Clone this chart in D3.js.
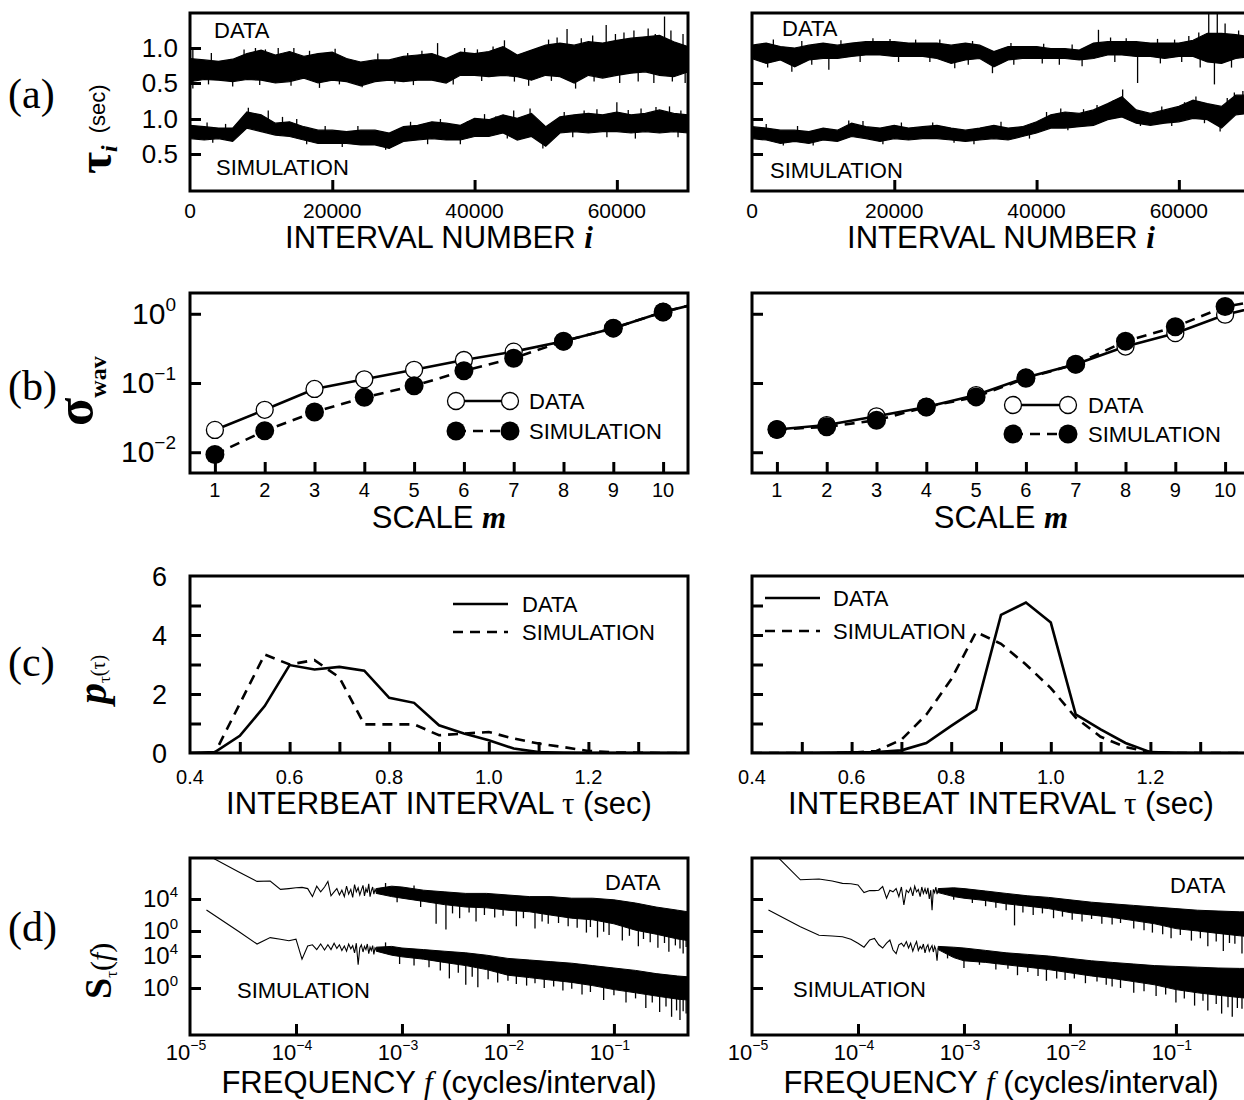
<!DOCTYPE html>
<html>
<head>
<meta charset="utf-8">
<script src="https://cdn.jsdelivr.net/npm/d3@7"></script>
<style>
  body { margin: 0; background: #fff; }
  svg { display: block; }
  text { font-family: "Liberation Sans", Arial, Helvetica, sans-serif; fill: #000; }
  .serif { font-family: "Liberation Serif", "Times New Roman", serif; }
</style>
</head>
<body>
<svg id="fig"></svg>
<script>
// ---------------- values ----------------

// (a) interbeat interval series: band envelope (sec) every 2000 beats
var beatIdx = [0,2000,4000,6000,8000,10000,12000,14000,16000,18000,20000,22000,24000,26000,28000,30000,32000,34000,
  36000,38000,40000,42000,44000,46000,48000,50000,52000,54000,56000,58000,60000,62000,64000,66000,68000,70000];
var dataHiL = [0.85,0.83,0.81,0.84,0.92,0.97,0.90,0.95,0.88,0.92,0.94,0.85,0.80,0.83,0.83,0.88,0.90,0.92,
  0.85,0.94,0.92,0.95,1.02,0.90,0.97,1.04,1.07,1.04,1.09,1.07,1.11,1.14,1.16,1.18,1.09,1.02];
var dataLoL = [0.52,0.55,0.54,0.52,0.55,0.54,0.50,0.52,0.57,0.50,0.54,0.52,0.46,0.52,0.54,0.52,0.54,0.54,
  0.50,0.61,0.61,0.59,0.61,0.59,0.54,0.61,0.59,0.50,0.61,0.57,0.61,0.64,0.66,0.61,0.59,0.66];
var simHiL = [0.91,0.89,0.87,0.87,1.10,1.06,0.94,0.96,0.89,0.84,0.84,0.82,0.84,0.84,0.80,0.89,0.91,0.96,
  0.94,0.91,1.01,0.99,1.06,1.01,1.08,0.89,1.03,1.06,1.08,1.06,1.10,1.06,1.08,1.13,1.08,1.06];
var simLoL = [0.72,0.70,0.72,0.68,0.87,0.82,0.77,0.75,0.70,0.65,0.65,0.65,0.63,0.63,0.58,0.68,0.70,0.72,
  0.70,0.70,0.75,0.75,0.80,0.70,0.75,0.61,0.80,0.82,0.80,0.82,0.82,0.80,0.82,0.80,0.82,0.80];
var dataHiR = [1.04,1.07,1.02,1.00,1.04,1.07,1.04,1.07,1.09,1.09,1.09,1.07,1.07,1.07,1.04,1.07,1.04,0.95,
  1.02,1.02,1.02,0.99,0.99,0.97,1.07,1.09,1.09,1.09,1.07,1.07,1.07,1.11,1.21,1.21,1.19,1.16];
var dataLoR = [0.85,0.78,0.83,0.73,0.83,0.85,0.85,0.88,0.90,0.90,0.88,0.88,0.88,0.85,0.78,0.83,0.85,0.73,
  0.83,0.85,0.85,0.85,0.85,0.83,0.85,0.90,0.90,0.88,0.88,0.85,0.88,0.88,0.80,0.78,0.85,0.88];
var simHiR = [0.89,0.87,0.84,0.84,0.82,0.87,0.84,0.94,0.89,0.87,0.91,0.87,0.89,0.91,0.87,0.84,0.87,0.91,
  0.87,0.89,0.96,1.06,1.10,1.08,1.13,1.22,1.32,1.13,1.08,1.13,1.18,1.27,1.22,1.18,1.34,1.34];
var simLoR = [0.72,0.70,0.65,0.68,0.65,0.70,0.68,0.75,0.72,0.68,0.72,0.70,0.72,0.72,0.70,0.68,0.70,0.72,
  0.70,0.75,0.80,0.87,0.87,0.89,0.91,0.99,1.03,0.94,0.91,0.94,0.96,1.01,0.99,0.87,1.06,1.08];
// excursions outside the band [beat, sec]
var dataSpikesL = [[400,0.97],[400,0.42],[2600,0.48],[3000,0.93],[6000,0.45],[7600,0.98],[9200,1.00],[9800,0.47],
  [10600,0.98],[12400,1.00],[14200,0.46],[14600,1.00],[16800,0.96],[18200,0.43],[20400,0.99],[21000,0.48],
  [24200,0.44],[26400,0.92],[28800,0.49],[30600,0.93],[31400,0.47],[32600,0.96],[34800,1.07],[37000,0.48],
  [38600,1.00],[40400,0.98],[41000,0.53],[42600,1.02],[44200,1.11],[45600,0.52],[47600,0.46],[50400,1.12],
  [50800,0.53],[51600,1.15],[53000,1.27],[54200,0.42],[55000,1.14],[56600,1.18],[56800,0.52],[58500,1.33],
  [59800,1.20],[60400,0.50],[61000,1.22],[62400,1.25],[63000,0.52],[64400,1.28],[65200,0.50],[65400,1.20],
  [66700,1.45],[67600,1.25],[67800,0.52],[69300,1.20],[69600,0.50]];
var simSpikesL = [[2400,0.95],[3200,0.66],[5000,0.93],[8200,1.16],[11000,1.12],[13000,1.03],[15000,1.00],
  [16400,0.64],[19000,0.90],[21400,0.60],[23600,0.90],[27500,0.56],[31000,0.96],[33400,0.64],[35200,1.00],
  [38000,0.64],[39000,0.97],[41400,1.07],[43000,1.04],[44600,0.72],[45500,1.12],[47800,1.15],[49600,0.58],
  [52600,1.10],[53800,0.74],[55400,1.12],[57200,1.14],[58600,0.74],[60000,1.24],[61600,1.13],[62600,0.72],
  [63400,1.15],[65500,1.17],[67400,1.18],[68600,0.74],[69000,1.12]];
var dataSpikesR = [[2200,0.72],[3000,1.12],[5600,0.66],[7000,1.10],[8400,0.76],[10800,0.69],[12500,1.11],
  [15200,0.80],[17000,1.14],[19400,1.13],[20600,0.80],[23000,1.12],[25000,0.80],[26400,1.12],[28500,0.71],
  [30400,0.76],[31000,1.10],[33800,0.64],[36400,1.07],[36800,0.76],[40800,0.78],[41000,1.06],[43200,0.76],
  [45000,1.05],[46400,0.74],[48700,1.26],[50400,1.15],[51000,0.80],[52600,1.14],[54200,0.50],[57000,1.13],
  [57400,0.78],[59400,1.12],[60400,0.80],[61400,1.17],[62800,1.22],[63000,0.72],[64200,1.50],[65000,0.48],
  [65400,1.50],[66500,1.35],[67400,0.72],[68400,1.25],[69400,0.76]];
var simSpikesR = [[2000,0.93],[4400,0.62],[6400,0.90],[8600,0.62],[13600,0.98],[15600,0.97],[18400,0.64],
  [21000,0.95],[25400,0.95],[28400,0.66],[31200,0.64],[35000,0.96],[39000,0.72],[41400,1.10],[43400,1.15],
  [44400,0.84],[46600,1.14],[48500,1.20],[50800,1.27],[52100,1.42],[54600,0.90],[57600,1.18],[59000,0.90],
  [60800,1.24],[62400,1.32],[63600,0.94],[65800,0.82],[66800,1.30],[67800,1.38],[69000,1.40],[69400,1.02]];

// (b) wavelet standard deviation vs scale m
var scaleM = [1,2,3,4,5,6,7,8,9,10,11];
var wavDataL = [0.021,0.041,0.082,0.113,0.155,0.215,0.284,0.40,0.62,1.06,1.6];
var wavSimL  = [0.0093,0.0204,0.038,0.062,0.091,0.15,0.228,0.40,0.62,1.06,1.6];
var wavDataR = [0.0213,0.0247,0.033,0.045,0.067,0.12,0.186,0.336,0.525,0.97,1.45];
var wavSimR  = [0.0213,0.0233,0.029,0.045,0.063,0.117,0.186,0.40,0.65,1.27,1.7];

// (c) interbeat interval histograms
var tauBins = [0.40,0.45,0.50,0.55,0.60,0.65,0.70,0.75,0.80,0.85,0.90,0.95,1.00,1.05,1.10,1.15,1.20,1.25,1.30,1.35,1.40];
var pDataL = [0,0.03,0.58,1.59,2.98,2.83,2.92,2.79,1.87,1.70,0.94,0.66,0.43,0.15,0.03,0.01,0,0,0,0,0];
var pSimL  = [0,0,1.67,3.34,3.00,3.15,2.56,0.97,0.97,0.97,0.60,0.66,0.71,0.49,0.32,0.20,0.07,0.02,0.01,0,0];
var pDataR = [0,0,0,0.01,0.02,0.03,0.09,0.34,0.92,1.48,4.68,5.10,4.42,1.31,0.80,0.34,0.03,0.01,0,0,0];
var pSimR  = [0,0,0,0,0.01,0.07,0.45,1.30,2.50,4.10,3.70,3.00,2.20,1.20,0.55,0.20,0.03,0,0,0,0];

// (d) power spectra, log10 S; lowest 40 harmonics as single points, the rest as a band
var lowFreq = [1.43e-5,2.86e-5,4.29e-5,5.71e-5,7.14e-5,8.57e-5,1.0e-4,1.14e-4,1.29e-4,1.43e-4,
  1.57e-4,1.71e-4,1.86e-4,2.0e-4,2.14e-4,2.29e-4,2.43e-4,2.57e-4,2.71e-4,2.86e-4,
  3.0e-4,3.14e-4,3.29e-4,3.43e-4,3.57e-4,3.71e-4,3.86e-4,4.0e-4,4.14e-4,4.29e-4,
  4.43e-4,4.57e-4,4.71e-4,4.86e-4,5.0e-4,5.14e-4,5.29e-4,5.43e-4,5.57e-4,5.71e-4];
var lowDataL = [9.55,7.4,6.2,6.25,5.2,5.3,5.4,5.45,5.3,4.3,5.6,4.9,5.5,6.2,4.4,4.9,5.3,4.5,5.1,4.3,
  5.6,4.6,5.2,4.2,5.8,4.9,5.4,4.5,5.1,5.7,4.4,5.3,4.8,5.9,4.3,5.0,5.5,4.6,5.2,4.9];
var lowSimL  = [9.75,7.1,5.5,6.3,6.1,5.9,6.1,3.6,5.25,5.4,4.8,5.5,4.75,5.4,4.8,5.6,4.95,5.4,4.7,5.25,
  4.6,5.5,4.9,5.3,4.4,5.6,2.9,5.0,5.4,4.5,5.2,4.8,5.5,4.3,5.1,4.7,5.3,4.2,5.0,4.8];
var lowDataR = [10.4,6.4,6.5,6.25,5.95,5.9,5.75,4.8,5.05,5.05,5.1,5.55,4.1,5.1,4.9,5.3,4.3,5.5,3.25,5.1,
  4.8,5.4,4.4,5.6,4.9,5.2,4.3,5.5,4.7,5.3,4.6,5.4,4.0,5.1,2.6,5.2,4.8,5.5,4.6,5.1];
var lowSimR  = [9.75,7.67,6.6,6.5,6.4,6.1,5.6,5.1,6.0,6.2,5.4,5.0,5.6,6.0,4.75,4.3,5.4,5.6,5.2,5.8,
  5.0,5.6,4.6,5.3,5.8,4.7,5.2,4.9,5.5,4.4,5.1,5.4,4.6,5.0,5.3,4.5,5.2,4.8,3.4,5.0];
var bandFreq = [5.71e-4,8e-4,1e-3,1.6e-3,2.5e-3,4e-3,6.3e-3,1e-2,1.6e-2,2.5e-2,4e-2,6.3e-2,0.1,0.16,0.25,0.4,0.5];
var bandDataHiL = [5.3,5.6,5.5,5.1,4.9,4.7,4.7,4.5,4.3,4.3,4.1,4.1,3.9,3.5,3.0,2.6,2.4];
var bandDataLoL = [4.7,4.3,4.1,3.7,3.3,3.0,2.9,2.6,2.4,2.0,1.6,1.4,0.9,0.1,-0.4,-1.0,-1.2];
var bandSimHiL  = [5.1,5.2,5.0,4.8,4.6,4.4,4.1,3.7,3.5,3.3,3.1,2.8,2.5,2.2,1.8,1.5,1.4];
var bandSimLoL  = [4.6,4.1,3.9,3.6,3.2,2.8,2.3,1.6,1.3,1.0,0.7,0.3,-0.2,-0.6,-1.0,-1.4,-1.5];
var bandDataHiR = [5.3,5.4,5.3,5.0,4.7,4.4,4.2,3.9,3.6,3.4,3.2,3.0,2.8,2.6,2.5,2.4,2.4];
var bandDataLoR = [4.8,4.3,4.1,3.8,3.4,3.1,2.8,2.3,2.0,1.7,1.3,0.9,0.3,0.0,-0.3,-0.6,-0.7];
var bandSimHiR  = [5.2,5.1,5.0,4.7,4.4,4.2,4.0,3.7,3.4,3.2,3.0,2.8,2.7,2.6,2.5,2.45,2.45];
var bandSimLoR  = [4.8,3.8,3.4,3.2,2.9,2.6,2.3,1.9,1.5,1.2,0.8,0.4,-0.2,-0.6,-0.9,-1.2,-1.3];
var specSpikesDataL = [[7e-4,6.0],[9e-4,3.6],[1.3e-3,5.7],[1.5e-3,3.0],[2.1e-3,0.9],[2.6e-3,0.2],[3e-3,2.2],
  [3.5e-3,1.6],[4.3e-3,2.3],[5e-3,1.2],[6e-3,2.0],[7.5e-3,1.7],[9e-3,1.9],[1.2e-2,0.6],[1.4e-2,1.6],[1.8e-2,0.3],
  [2.1e-2,1.2],[2.4e-2,0.9],[3e-2,1.0],[3.7e-2,0.6],[4.5e-2,0.4],[5.5e-2,-0.2],[6e-2,0.5],[7e-2,-0.8],[8e-2,-0.1],
  [0.09,-0.5],[0.12,-1.2],[0.14,-0.6],[0.17,-1.9],[0.19,-1.0],[0.22,-1.4],[0.26,-2.1],[0.3,-1.5],[0.33,-2.6],
  [0.38,-1.8],[0.42,-2.2],[0.45,-2.8],[0.48,-2.0]];
var specSpikesSimL = [[7e-4,5.7],[9.5e-4,3.0],[1.3e-3,2.8],[1.8e-3,2.6],[2.3e-3,2.2],[2.8e-3,1.2],[3.4e-3,1.9],
  [4e-3,0.4],[4.6e-3,1.4],[5.2e-3,0.1],[6.5e-3,1.1],[8e-3,0.7],[1e-2,0.9],[1.2e-2,0.5],[1.5e-2,0.3],
  [1.8e-2,0.6],[2.2e-2,0.0],[2.7e-2,0.2],[3.3e-2,-0.3],[4e-2,-0.1],[5e-2,-0.8],[6e-2,-0.5],[8e-2,-1.5],
  [0.1,-0.9],[0.13,-1.8],[0.16,-1.3],[0.2,-2.5],[0.23,-1.8],[0.27,-3.0],[0.31,-2.3],[0.35,-3.6],[0.39,-2.8],
  [0.42,-4.0],[0.45,-2.9],[0.48,-3.2]];
var specSpikesDataR = [[8e-4,3.9],[1.2e-3,3.5],[1.6e-3,3.1],[2e-3,2.9],[2.5e-3,2.6],[3e-3,0.7],[3.6e-3,2.3],
  [4.5e-3,2.0],[5.5e-3,2.2],[7e-3,1.6],[8.5e-3,1.8],[1.05e-2,1.4],[1.3e-2,1.2],[1.6e-2,1.5],[2e-2,0.9],
  [2.5e-2,0.8],[3e-2,1.0],[4e-2,0.3],[5e-2,0.1],[6e-2,-0.2],[7.5e-2,-0.4],[9e-2,-0.9],[0.11,-0.5],[0.14,-1.2],
  [0.17,-0.9],[0.2,-1.9],[0.24,-1.3],[0.28,-2.5],[0.32,-1.5],[0.36,-1.6],[0.42,-2.8],[0.45,-1.7],[0.48,-2.2]];
var specSpikesSimR = [[7e-4,3.7],[1e-3,2.5],[1.4e-3,2.9],[2e-3,2.3],[2.6e-3,2.4],[3.2e-3,1.6],[4e-3,2.0],
  [5e-3,1.5],[6e-3,0.9],[7.5e-3,1.2],[9e-3,1.0],[1.1e-2,1.2],[1.4e-2,0.6],[1.8e-2,0.8],[2.2e-2,0.4],[2.5e-2,0.2],
  [3e-2,0.0],[4e-2,-0.6],[5e-2,-0.4],[6.5e-2,-1.0],[8e-2,-0.8],[0.1,-1.8],[0.12,-1.3],[0.15,-2.2],[0.18,-1.6],
  [0.2,-2.8],[0.24,-2.0],[0.27,-3.2],[0.31,-2.4],[0.34,-3.6],[0.38,-2.5],[0.42,-2.6],[0.47,-3.4]];

// ---------------- layout ----------------
var svg = d3.select("#fig").attr("width", 1244).attr("height", 1100);
var colX = [190, 752], plotW = 498;
var rowY = {a: [13, 191], b: [293, 473], c: [576, 753], d: [858, 1035]};

function makePanel(key, col) {
  var x0 = colX[col], y0 = rowY[key][0], y1 = rowY[key][1];
  var id = "clip-" + key + col;
  svg.append("clipPath").attr("id", id).append("rect")
    .attr("x", x0).attr("y", y0).attr("width", plotW).attr("height", y1 - y0);
  var g = svg.append("g");
  var plot = g.append("g").attr("clip-path", "url(#" + id + ")");
  return {g: g, plot: plot, x0: x0, x1: x0 + plotW, y0: y0, y1: y1, col: col};
}
function frame(p) {
  p.g.append("rect").attr("x", p.x0).attr("y", p.y0)
    .attr("width", p.x1 - p.x0).attr("height", p.y1 - p.y0)
    .attr("fill", "none").attr("stroke", "#000").attr("stroke-width", 3);
}
function ticksBottom(p, x, vals) {
  p.g.append("g").attr("transform", "translate(0," + p.y1 + ")")
    .call(d3.axisBottom(x).tickValues(vals).tickSizeInner(-11).tickSizeOuter(0).tickFormat(""))
    .call(function(s) { s.select(".domain").remove(); s.selectAll("line").attr("stroke-width", 3); });
}
function ticksLeft(p, y, vals) {
  p.g.append("g").attr("transform", "translate(" + p.x0 + ",0)")
    .call(d3.axisLeft(y).tickValues(vals).tickSizeInner(-11).tickSizeOuter(0).tickFormat(""))
    .call(function(s) { s.select(".domain").remove(); s.selectAll("line").attr("stroke-width", 3); });
}
function labelsBottom(p, x, vals, fmt, size, base) {
  p.g.selectAll(null).data(vals).enter().append("text")
    .attr("x", function(d) { return x(d); }).attr("y", base)
    .attr("text-anchor", "middle").attr("font-size", size).text(fmt);
}
function labelsLeft(p, y, vals, fmt, size, right, shift) {
  p.g.selectAll(null).data(vals).enter().append("text")
    .attr("x", right).attr("y", function(d) { return y(d) + shift; })
    .attr("text-anchor", "end").attr("font-size", size).text(fmt);
}
function word(p, x, y, s, size) {
  p.g.append("text").attr("x", x).attr("y", y).attr("font-size", size).text(s);
}
function powText(sel, exp, big, small, rise) {
  sel.append("tspan").attr("font-size", big).text("10");
  sel.append("tspan").attr("font-size", small).attr("dy", -rise).text(exp);
}
function spikes(p, x, y, list, mid) {
  p.plot.selectAll(null).data(list).enter().append("line")
    .attr("x1", function(d) { return x(d[0]); }).attr("x2", function(d) { return x(d[0]); })
    .attr("y1", function(d) { return y(mid(d[0])); }).attr("y2", function(d) { return y(d[1]); })
    .attr("stroke", "#000").attr("stroke-width", 1.3);
}

// ---------------- (a) ----------------
[0, 1].forEach(function(col) {
  var p = makePanel("a", col);
  var x = d3.scaleLinear().domain([0, 70000]).range([p.x0, p.x1]);
  var yD = d3.scaleLinear().domain([0.5, 1.0]).range([83, 48]);
  var yS = d3.scaleLinear().domain([0.5, 1.0]).range([154, 119]);
  var sets = [
    [yD, col ? dataHiR : dataHiL, col ? dataLoR : dataLoL, col ? dataSpikesR : dataSpikesL],
    [yS, col ? simHiR : simHiL, col ? simLoR : simLoL, col ? simSpikesR : simSpikesL]
  ];
  sets.forEach(function(s) {
    var y = s[0], hi = s[1], lo = s[2];
    var rows = beatIdx.map(function(b, k) { return {b: b, hi: hi[k], lo: lo[k]}; });
    p.plot.append("path").datum(rows)
      .attr("d", d3.area().x(function(d) { return x(d.b); })
        .y0(function(d) { return y(d.lo); }).y1(function(d) { return y(d.hi); }))
      .attr("fill", "#000").attr("stroke", "#000").attr("stroke-width", 1.2);
    var mid = d3.scaleLinear().domain(beatIdx).range(rows.map(function(d) { return (d.hi + d.lo) / 2; }));
    spikes(p, x, y, s[3], mid);
  });
  ticksBottom(p, x, [20000, 40000, 60000]);
  ticksLeft(p, yD, [0.5, 1.0]);
  ticksLeft(p, yS, [0.5, 1.0]);
  labelsBottom(p, x, [0, 20000, 40000, 60000], function(d) { return d; }, 21, 218);
  if (col === 0) {
    labelsLeft(p, yD, [1.0, 0.5], d3.format(".1f"), 26, 178, 9);
    labelsLeft(p, yS, [1.0, 0.5], d3.format(".1f"), 26, 178, 9);
  }
  word(p, col ? 782 : 214, col ? 36 : 38, "DATA", 22);
  word(p, col ? 770 : 216, col ? 178 : 175, "SIMULATION", 22);
  var t = p.g.append("text").attr("x", p.x0 + plotW / 2).attr("y", 248)
    .attr("text-anchor", "middle").attr("font-size", 31);
  t.append("tspan").text("INTERVAL NUMBER ");
  t.append("tspan").attr("class", "serif").attr("font-weight", "bold").attr("font-style", "italic").text("i");
  frame(p);
});

// ---------------- (b) ----------------
[0, 1].forEach(function(col) {
  var p = makePanel("b", col);
  var x = d3.scaleLinear().domain([0.5, 10.5]).range([p.x0, p.x1]);
  var y = d3.scaleLog().domain([Math.pow(10, -2.3), Math.pow(10, 0.3)]).range([p.y1, p.y0]);
  var dat = col ? wavDataR : wavDataL, sim = col ? wavSimR : wavSimL;
  var line = function(arr) {
    return d3.line().x(function(d, k) { return x(scaleM[k]); }).y(function(d) { return y(d); })(arr);
  };
  p.plot.append("path").attr("d", line(dat)).attr("fill", "none").attr("stroke", "#000").attr("stroke-width", 2.6);
  p.plot.append("path").attr("d", line(sim)).attr("fill", "none").attr("stroke", "#000")
    .attr("stroke-width", 2.6).attr("stroke-dasharray", "10,7");
  p.plot.selectAll(null).data(dat).enter().append("circle")
    .attr("cx", function(d, k) { return x(scaleM[k]); }).attr("cy", function(d) { return y(d); })
    .attr("r", 8.5).attr("fill", "#fff").attr("stroke", "#000").attr("stroke-width", 1.3);
  p.plot.selectAll(null).data(sim).enter().append("circle")
    .attr("cx", function(d, k) { return x(scaleM[k]); }).attr("cy", function(d) { return y(d); })
    .attr("r", 9.5).attr("fill", "#000");
  ticksBottom(p, x, scaleM.slice(0, 10));
  ticksLeft(p, y, [0.01, 0.1, 1]);
  labelsBottom(p, x, scaleM.slice(0, 10), function(d) { return d; }, 20, 497);
  if (col === 0) {
    [[1, "0"], [0.1, "\u22121"], [0.01, "\u22122"]].forEach(function(e) {
      var t = p.g.append("text").attr("x", 176).attr("y", y(e[0]) + 10).attr("text-anchor", "end");
      powText(t, e[1], 30, 19, 13);
    });
  }
  // legend
  var lx = col ? [1013, 1068] : [456, 510], tx = col ? 1088 : 529, ly = col ? [405, 434] : [401, 431];
  p.g.append("line").attr("x1", lx[0]).attr("x2", lx[1]).attr("y1", ly[0]).attr("y2", ly[0])
    .attr("stroke", "#000").attr("stroke-width", 2.6);
  p.g.append("line").attr("x1", lx[0]).attr("x2", lx[1]).attr("y1", ly[1]).attr("y2", ly[1])
    .attr("stroke", "#000").attr("stroke-width", 2.6).attr("stroke-dasharray", "10,7");
  lx.forEach(function(cx) {
    p.g.append("circle").attr("cx", cx).attr("cy", ly[0]).attr("r", 8.5)
      .attr("fill", "#fff").attr("stroke", "#000").attr("stroke-width", 1.3);
    p.g.append("circle").attr("cx", cx).attr("cy", ly[1]).attr("r", 9.5).attr("fill", "#000");
  });
  word(p, tx, ly[0] + 8, "DATA", 22);
  word(p, tx, ly[1] + 8, "SIMULATION", 22);
  var t = p.g.append("text").attr("x", p.x0 + plotW / 2).attr("y", 528)
    .attr("text-anchor", "middle").attr("font-size", 31);
  t.append("tspan").text("SCALE ");
  t.append("tspan").attr("class", "serif").attr("font-weight", "bold").attr("font-style", "italic").text("m");
  frame(p);
});

// ---------------- (c) ----------------
[0, 1].forEach(function(col) {
  var p = makePanel("c", col);
  var x = d3.scaleLinear().domain([0.4, 1.4]).range([p.x0, p.x1]);
  var y = d3.scaleLinear().domain([0, 6]).range([p.y1, p.y0]);
  var line = d3.line().x(function(d, k) { return x(tauBins[k]); }).y(function(d) { return y(d); });
  p.plot.append("path").attr("d", line(col ? pDataR : pDataL))
    .attr("fill", "none").attr("stroke", "#000").attr("stroke-width", 2.6);
  p.plot.append("path").attr("d", line(col ? pSimR : pSimL))
    .attr("fill", "none").attr("stroke", "#000").attr("stroke-width", 2.6).attr("stroke-dasharray", "10,7");
  ticksBottom(p, x, [0.5, 0.6, 0.7, 0.8, 0.9, 1.0, 1.1, 1.2, 1.3]);
  ticksLeft(p, y, [1, 2, 3, 4, 5]);
  labelsBottom(p, x, [0.4, 0.6, 0.8, 1.0, 1.2], d3.format(".1f"), 20, 784);
  if (col === 0) labelsLeft(p, y, [0, 2, 4, 6], function(d) { return d; }, 27, 167, 10);
  var lx = col ? [765, 820] : [453, 508], tx = col ? 833 : 522, ly = col ? [598, 631] : [604, 632];
  p.g.append("line").attr("x1", lx[0]).attr("x2", lx[1]).attr("y1", ly[0]).attr("y2", ly[0])
    .attr("stroke", "#000").attr("stroke-width", 2.6);
  p.g.append("line").attr("x1", lx[0]).attr("x2", lx[1]).attr("y1", ly[1]).attr("y2", ly[1])
    .attr("stroke", "#000").attr("stroke-width", 2.6).attr("stroke-dasharray", "10,7");
  word(p, tx, ly[0] + 8, "DATA", 22);
  word(p, tx, ly[1] + 8, "SIMULATION", 22);
  var t = p.g.append("text").attr("x", p.x0 + plotW / 2).attr("y", 814)
    .attr("text-anchor", "middle").attr("font-size", 31);
  t.append("tspan").text("INTERBEAT INTERVAL ");
  t.append("tspan").attr("class", "serif").text("\u03c4");
  t.append("tspan").text(" (sec)");
  frame(p);
});

// ---------------- (d) ----------------
[0, 1].forEach(function(col) {
  var p = makePanel("d", col);
  var x = d3.scaleLog().domain([1e-5, 0.5]).range([p.x0, p.x1]);
  var yU = d3.scaleLinear().domain([0, 4]).range([931, 899]);
  var yL = d3.scaleLinear().domain([0, 4]).range([988, 956]);
  var sets = col ? [
    [yU, lowDataR, bandDataHiR, bandDataLoR, specSpikesDataR],
    [yL, lowSimR, bandSimHiR, bandSimLoR, specSpikesSimR]
  ] : [
    [yU, lowDataL, bandDataHiL, bandDataLoL, specSpikesDataL],
    [yL, lowSimL, bandSimHiL, bandSimLoL, specSpikesSimL]
  ];
  sets.forEach(function(s) {
    var y = s[0], low = s[1], hi = s[2], lo = s[3];
    p.plot.append("path")
      .attr("d", d3.line().x(function(d, k) { return x(lowFreq[k]); }).y(function(d) { return y(d); })(low))
      .attr("fill", "none").attr("stroke", "#000").attr("stroke-width", 1.1);
    var rows = bandFreq.map(function(f, k) { return {f: f, hi: hi[k], lo: lo[k]}; });
    p.plot.append("path").datum(rows)
      .attr("d", d3.area().x(function(d) { return x(d.f); })
        .y0(function(d) { return y(d.lo); }).y1(function(d) { return y(d.hi); }))
      .attr("fill", "#000").attr("stroke", "#000").attr("stroke-width", 1);
    var mid = d3.scaleLog().domain(bandFreq).range(rows.map(function(d) { return (d.hi + d.lo) / 2; }));
    spikes(p, x, y, s[4], mid);
  });
  ticksBottom(p, x, [1e-4, 1e-3, 1e-2, 1e-1]);
  ticksLeft(p, yU, [0, 4]);
  ticksLeft(p, yL, [0, 4]);
  [[1e-5, "\u22125"], [1e-4, "\u22124"], [1e-3, "\u22123"], [1e-2, "\u22122"], [1e-1, "\u22121"]].forEach(function(e) {
    var t = p.g.append("text").attr("x", x(e[0]) - 4).attr("y", 1060).attr("text-anchor", "middle");
    powText(t, e[1], 22, 14, 10);
  });
  if (col === 0) {
    [[yU, 4], [yU, 0], [yL, 4], [yL, 0]].forEach(function(e) {
      var t = p.g.append("text").attr("x", 178).attr("y", e[0](e[1]) + 8).attr("text-anchor", "end");
      powText(t, String(e[1]), 24, 15, 10);
    });
  }
  word(p, col ? 1170 : 605, col ? 893 : 890, "DATA", 22);
  word(p, col ? 793 : 237, col ? 997 : 998, "SIMULATION", 22);
  var t = p.g.append("text").attr("x", p.x0 + plotW / 2).attr("y", 1093)
    .attr("text-anchor", "middle").attr("font-size", 31);
  t.append("tspan").text("FREQUENCY ");
  t.append("tspan").attr("class", "serif").attr("font-style", "italic").text("f");
  t.append("tspan").text(" (cycles/interval)");
  frame(p);
});

// ---------------- panel letters and y titles ----------------
[["(a)", 108], ["(b)", 400], ["(c)", 676], ["(d)", 941]].forEach(function(e) {
  svg.append("text").attr("class", "serif").attr("x", 8).attr("y", e[1]).attr("font-size", 42).text(e[0]);
});

var ta = svg.append("text").attr("transform", "translate(111,174) rotate(-90)");
ta.append("tspan").attr("class", "serif").attr("font-size", 48).attr("font-weight", "bold").text("\u03c4");
ta.append("tspan").attr("class", "serif").attr("font-size", 24).attr("font-weight", "bold")
  .attr("font-style", "italic").attr("dy", 6).text("i");
ta.append("tspan").attr("font-size", 22).attr("dy", -12).attr("dx", 12).text("(sec)");

var tb = svg.append("text").attr("transform", "translate(92,426) rotate(-90)");
tb.append("tspan").attr("class", "serif").attr("font-size", 52).attr("font-weight", "bold").text("\u03c3");
tb.append("tspan").attr("class", "serif").attr("font-size", 24).attr("font-weight", "bold")
  .attr("dy", 14).text("wav");

var tc = svg.append("text").attr("transform", "translate(106,704) rotate(-90)");
tc.append("tspan").attr("class", "serif").attr("font-size", 42).attr("font-weight", "bold")
  .attr("font-style", "italic").text("p");
tc.append("tspan").attr("class", "serif").attr("font-size", 17).attr("dy", 4).text("\u03c4");
tc.append("tspan").attr("class", "serif").attr("font-size", 20).attr("dy", -5).text("(\u03c4)");

var td = svg.append("text").attr("transform", "translate(111,999) rotate(-90)");
td.append("tspan").attr("class", "serif").attr("font-size", 38).attr("font-weight", "bold").text("S");
td.append("tspan").attr("class", "serif").attr("font-size", 17).attr("dy", 6).text("\u03c4");
td.append("tspan").attr("class", "serif").attr("font-size", 30).attr("dy", -6).text("(");
td.append("tspan").attr("class", "serif").attr("font-size", 30).attr("font-style", "italic").text("f");
td.append("tspan").attr("class", "serif").attr("font-size", 30).text(")");
</script>
</body>
</html>
